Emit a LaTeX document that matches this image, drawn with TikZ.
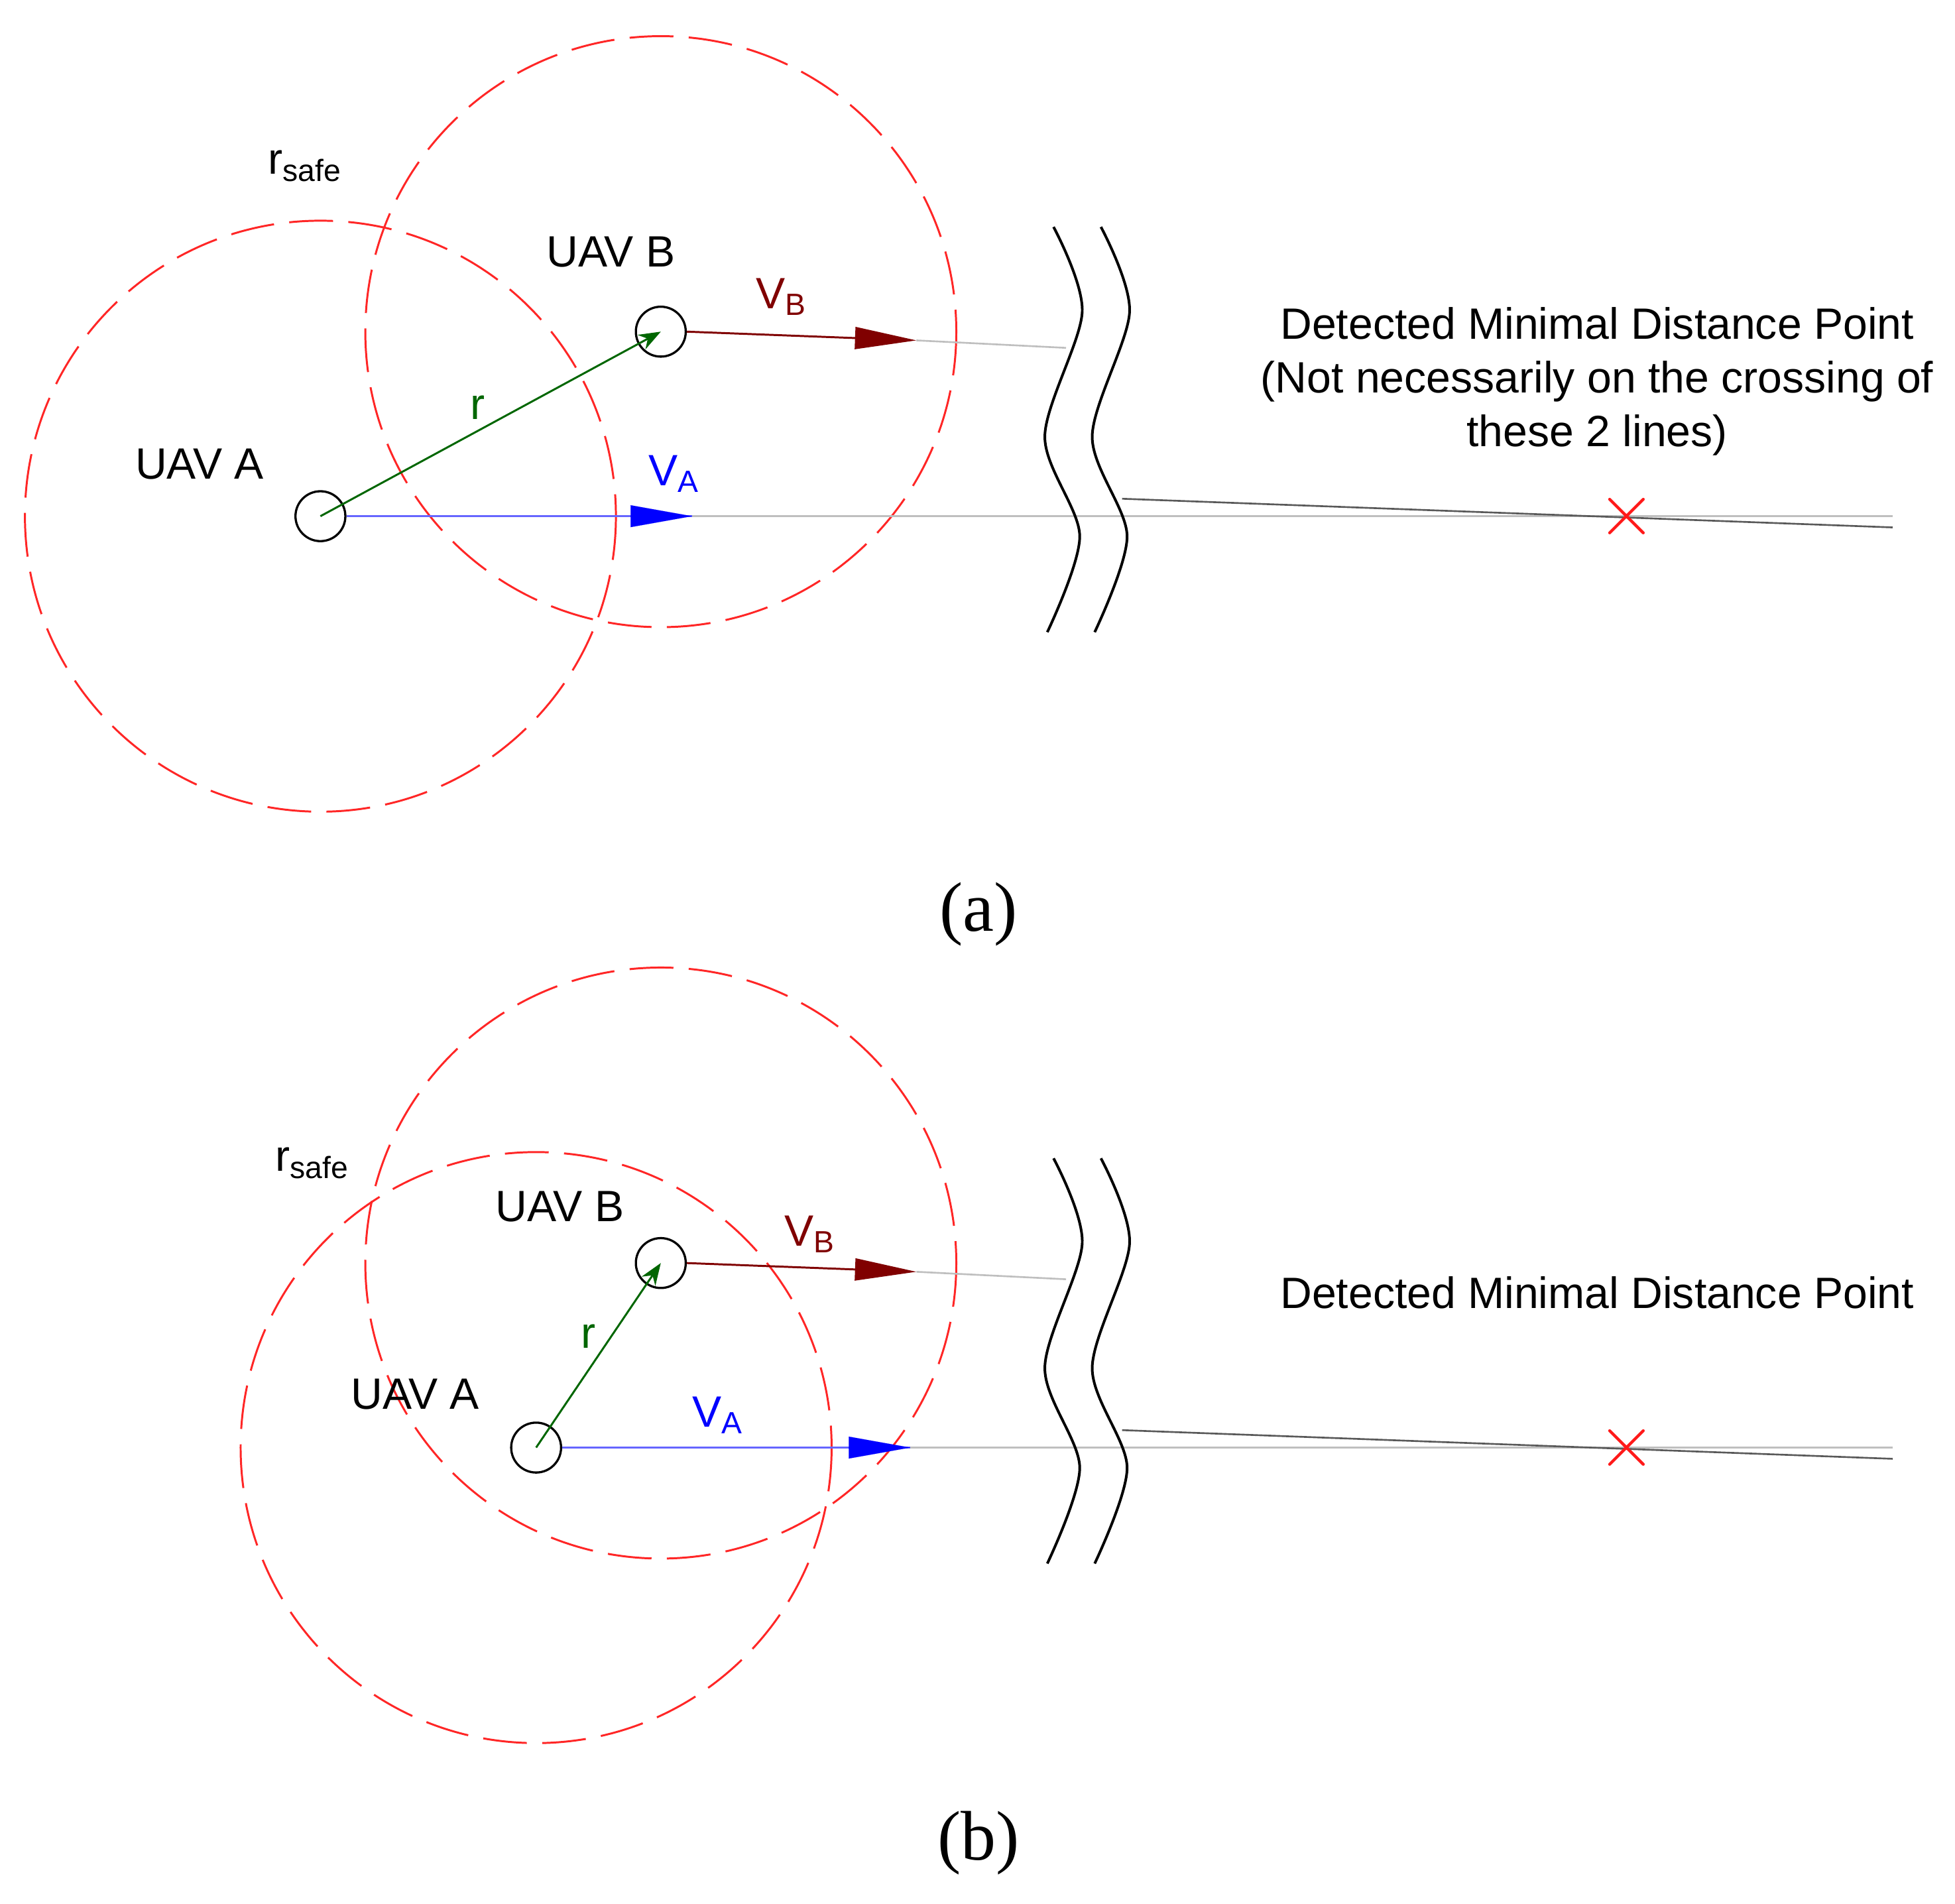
\documentclass[tikz,border=0pt]{standalone}
\usepackage{fontspec}
\setmainfont{Liberation Sans}
\newfontfamily\capfont{Liberation Serif}
\usetikzlibrary{arrows.meta}
\begin{document}
\begin{tikzpicture}[x=0.01cm,y=-0.01cm,
 safe/.style={draw=red!85!white,line width=0.45pt,dash pattern=on 10pt off 3.5pt},
 uav/.style={circle,draw,line width=0.5pt,minimum size=0.4cm,inner sep=0pt},
 lbl/.style={font=\fontsize{10}{12}\selectfont},
 figcap/.style={font=\capfont\fontsize{16}{18}\selectfont},
 guide/.style={draw=gray!50,line width=0.4pt},
 tip/.style={-{Triangle[length=14pt,width=5pt]}},
 brk/.style={line width=0.6pt}]
\useasboundingbox (0,0) rectangle (1568,1527);
% ---------- (a)
\coordinate (ca) at (257,414); \coordinate (cb) at (530,266);
\draw[safe] (ca) circle (237);
\draw[safe] (cb) circle (237);
\node[uav] (A) at (ca) {};
\node[uav] (B) at (cb) {};
\draw[green!40!black,line width=0.45pt,-{Stealth[length=5pt]}] (A.center) -- (B.center);
\coordinate (vbt) at (735,273); \coordinate (vbe) at (855,279);
\coordinate (vat) at (555,414); \coordinate (vae) at (1518,414);
\draw[guide] (vbt) -- (vbe);
\draw[guide] (vat) -- (vae);
\draw[red!50!black,line width=0.45pt,tip] (B.east) -- (vbt);
\draw[blue!60!white,line width=0.4pt] (A.east) -- (vat);
\draw[blue,line width=0.01pt,tip] ([xshift=-1pt]vat) -- (vat);
\coordinate (ga) at (900,400); \coordinate (gb) at (1518,423);
\draw[draw=gray!70!black,line width=0.4pt] (ga) -- (gb);
\node[text=red!90!white,font=\fontsize{16}{16}\selectfont] (xa) at (1305,414) {$\times$};
\draw[brk] plot[smooth] coordinates {(845,182) (868,250) (838,350) (866,430) (840,507)};
\draw[brk] plot[smooth] coordinates {(883,182) (906,250) (876,350) (904,430) (878,507)};
\node[lbl] (ra) at (245,133) {r\textsubscript{safe}};
\node[lbl] (ua) at (160,372) {UAV A};
\node[lbl] (ub) at (490,202) {UAV B};
\node[lbl,text=green!40!black] (rr) at (383,327) {r};
\node[lbl,text=red!50!black] (lvb) at (627,238) {V\textsubscript{B}};
\node[lbl,text=blue] (lva) at (541,380) {V\textsubscript{A}};
\node[lbl,align=center,font=\fontsize{10}{12.2}\selectfont] (ta) at (1281,306) {Detected Minimal Distance Point\\(Not necessarily on the crossing of\\these 2 lines)};
\node[figcap] (capa) at (785,733) {(a)};
% ---------- (b)
\coordinate (ca2) at (430,1161); \coordinate (cb2) at (530,1013);
\draw[safe] (ca2) circle (237);
\draw[safe] (cb2) circle (237);
\node[uav] (A2) at (ca2) {};
\node[uav] (B2) at (cb2) {};
\draw[green!40!black,line width=0.45pt,-{Stealth[length=5pt]}] (A2.center) -- (B2.center);
\coordinate (vbt2) at (735,1020); \coordinate (vbe2) at (855,1026);
\coordinate (vat2) at (730,1161); \coordinate (vae2) at (1518,1161);
\draw[guide] (vbt2) -- (vbe2);
\draw[guide] (vat2) -- (vae2);
\draw[red!50!black,line width=0.45pt,tip] (B2.east) -- (vbt2);
\draw[blue!60!white,line width=0.4pt] (A2.east) -- (vat2);
\draw[blue,line width=0.01pt,tip] ([xshift=-1pt]vat2) -- (vat2);
\coordinate (ga2) at (900,1147); \coordinate (gb2) at (1518,1170);
\draw[draw=gray!70!black,line width=0.4pt] (ga2) -- (gb2);
\node[text=red!90!white,font=\fontsize{16}{16}\selectfont] (xb) at (1305,1161) {$\times$};
\draw[brk] plot[smooth] coordinates {(845,929) (868,997) (838,1097) (866,1177) (840,1254)};
\draw[brk] plot[smooth] coordinates {(883,929) (906,997) (876,1097) (904,1177) (878,1254)};
\node[lbl] (rb) at (251,933) {r\textsubscript{safe}};
\node[lbl] (ua2) at (333,1118) {UAV A};
\node[lbl] (ub2) at (449,968) {UAV B};
\node[lbl,text=green!40!black] (rr2) at (472,1072) {r};
\node[lbl,text=red!50!black] (lvb2) at (650,990) {V\textsubscript{B}};
\node[lbl,text=blue] (lva2) at (576,1135) {V\textsubscript{A}};
\node[lbl] (tb) at (1281,1037) {Detected Minimal Distance Point};
\node[figcap] (capb) at (785,1478) {(b)};
\end{tikzpicture}
\end{document}
